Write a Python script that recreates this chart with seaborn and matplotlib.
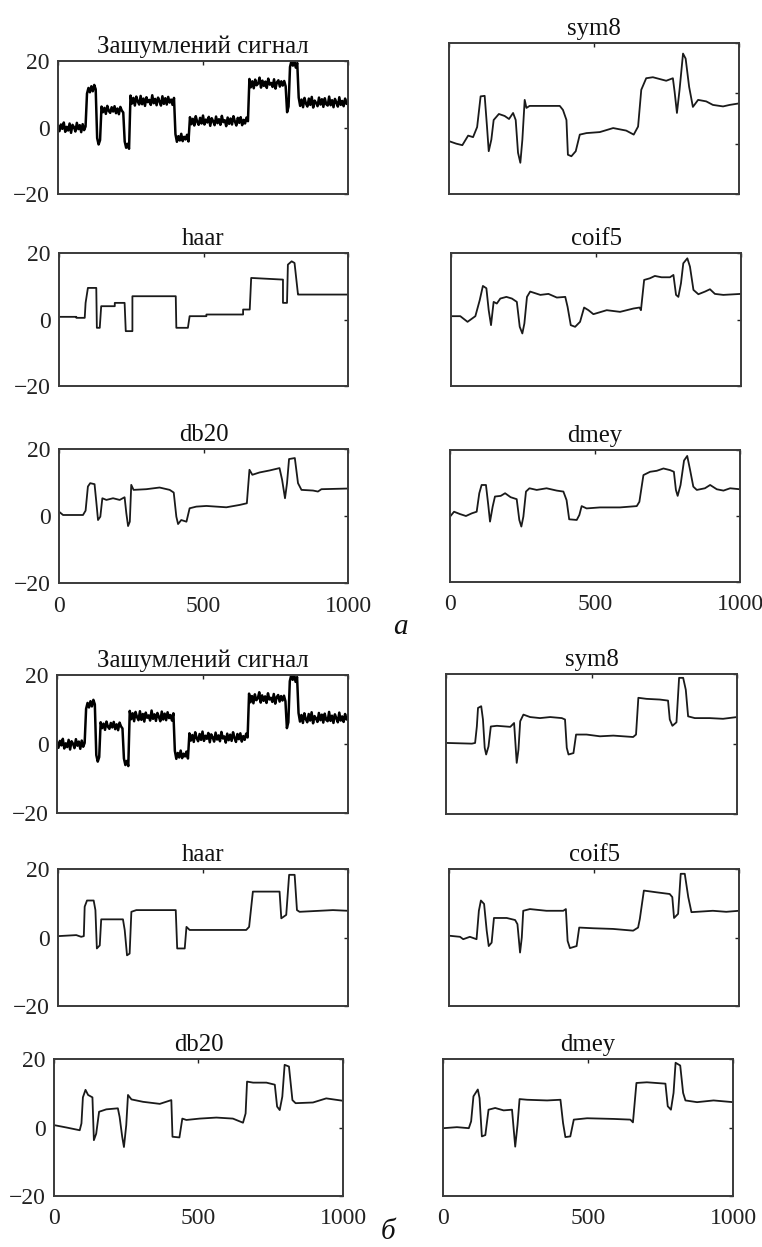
import numpy as np
import pandas as pd
import matplotlib
matplotlib.use("Agg")
import matplotlib.pyplot as plt
import seaborn as sns

# ---------------- data ----------------
NOISY_X = list(range(0, 1001, 5))
NOISY_Y = [0.6, -1.1, 0.9, -0.4, 1.5, -1.3, 0.2, -0.9, 1.2, -1.6, 0.8, 0.1, -1.2, 1.4, -0.5, 0.7, -1.4, 1.0, -0.8, 0.3,
           10.2, 11.9, 10.6, 12.4, 10.9, 12.8, 11.5,
           -3.2, -5.1, -3.8,
           6.3, 4.6, 5.9, 4.1, 6.5, 5.0, 4.4, 6.1, 4.8, 6.4, 4.3, 5.7, 4.0, 6.2, 5.1, 4.5,
           -4.2, -6.1, -4.9, -6.4,
           9.6, 7.2, 8.9, 6.6, 9.3, 7.8, 6.9, 9.5, 7.0, 8.7, 6.5, 9.1, 7.6, 8.3, 6.8, 9.7, 7.3, 8.6, 6.7, 9.0,
           7.9, 6.6, 9.4, 7.1, 8.8, 6.9, 9.2, 7.5, 8.4, 6.8, 8.9,
           -2.0, -4.3, -2.6, -3.9, -1.9, -4.1, -2.8, -3.6, -2.2, -4.2,
           3.1, 1.0, 2.6, 0.6, 3.4, 1.7, 0.8, 2.9, 1.2, 3.6, 0.9, 2.4, 1.5, 3.2, 0.5, 2.8, 1.9, 0.7, 3.3, 1.3,
           2.5, 0.8, 3.5, 1.6, 2.2, 0.4, 3.0, 1.1, 2.7, 0.9, 3.4, 1.8, 0.6, 2.9, 1.4, 3.1, 0.7, 2.3, 1.2, 3.0, 1.9,
           14.6, 12.1, 13.9, 11.8, 14.4, 12.7, 13.2, 15.0, 12.0, 14.1, 12.5, 13.8, 11.9, 14.7, 12.9, 13.4, 12.2,
           14.5, 11.7, 13.6, 14.2, 12.3, 13.9, 12.6, 14.0, 12.4,
           4.6, 6.3,
           18.2, 20.0, 18.6, 19.8, 18.0, 19.4,
           9.0, 6.5, 8.4, 6.1, 8.9, 7.2, 6.3, 8.7, 6.8, 9.2, 6.0, 8.1, 7.4, 6.4, 9.0, 6.9, 8.5, 6.2, 8.8, 7.0,
           6.6, 9.3, 6.7, 8.2, 6.1, 8.6, 7.5, 6.3, 9.1, 6.8, 8.0, 6.4, 8.7, 7.1, 7.8]

A_SYM8_X = [0, 25, 46, 66, 83, 97, 109, 123, 131, 137, 146, 154, 172, 192, 207, 221, 230, 238, 246, 253,
            261, 267, 278, 382, 393, 405, 410, 422, 437, 451, 474, 520, 566, 611, 637, 652, 663, 680, 703,
            749, 772, 778, 786, 795, 807, 816, 828, 841, 859, 887, 910, 945, 968, 1000]
A_SYM8_Y = [0.5, 0, -0.3, 1.6, 1.3, 3.3, 9.4, 9.5, 3.4, -1.5, 0.8, 4.7, 5.9, 5.5, 4.9, 6.1, 4.7, -1.8, -3.8, 0.8,
            8.7, 7.1, 7.5, 7.5, 6.7, 4.7, -2.2, -2.5, -1.5, 1.8, 2.1, 2.3, 3.1, 2.6, 1.8, 3.4, 10.7, 13.0, 13.2,
            12.5, 13.0, 10.3, 6.1, 10.7, 17.9, 16.9, 11.3, 7.3, 8.7, 8.4, 7.7, 7.4, 7.7, 8.0]

A_HAAR_X = [0, 60, 60, 89, 92, 100, 129, 131, 141, 146, 193, 193, 227, 231, 254, 254, 404, 406, 446, 452,
            510, 510, 637, 637, 660, 665, 775, 775, 789, 792, 805, 815, 827, 830, 1000]
A_HAAR_Y = [0.8, 0.8, 0.5, 0.5, 5.0, 9.5, 9.5, -2.5, -2.5, 4.0, 4.0, 5.0, 5.0, -3.5, -3.5, 7.0, 7.0, -2.5, -2.5, 1.0,
            1.0, 1.5, 1.5, 3.0, 3.0, 12.5, 12.0, 5.0, 5.0, 16.5, 17.5, 17.0, 7.5, 7.5, 7.5]

A_COIF5_X = [0, 32, 57, 84, 99, 110, 122, 130, 138, 147, 158, 170, 191, 210, 227, 237, 246, 253, 262, 273,
             308, 336, 365, 394, 402, 413, 428, 445, 459, 474, 491, 537, 583, 629, 650, 655, 666, 686, 703,
             726, 755, 767, 776, 784, 793, 801, 815, 824, 836, 853, 876, 893, 910, 939, 1000]
A_COIF5_Y = [1.0, 1.0, -0.7, 1.0, 5.8, 10.1, 9.4, 2.8, -1.7, 5.3, 4.8, 6.3, 6.8, 6.3, 5.3, -2.2, -4.2, -1.2, 6.8, 8.4,
             7.4, 7.7, 6.6, 6.8, 3.8, -1.7, -2.2, -0.7, 3.6, 2.8, 1.6, 2.8, 2.3, 3.3, 3.6, 2.8, 11.9, 12.4, 13.1,
             12.7, 12.7, 13.4, 7.4, 6.8, 10.9, 16.9, 18.4, 15.9, 8.9, 7.6, 8.4, 9.1, 7.7, 7.4, 7.7]

A_DB20_X = [0, 14, 83, 92, 100, 108, 123, 129, 135, 143, 150, 164, 187, 210, 227, 233, 239, 245, 250, 258,
            302, 348, 383, 397, 406, 412, 423, 441, 452, 475, 510, 579, 625, 650, 659, 669, 694, 729, 763,
            772, 782, 789, 796, 816, 827, 839, 879, 896, 908, 1000]
A_DB20_Y = [1.3, 0.3, 0.3, 1.6, 8.8, 9.8, 9.5, 4.3, -1.2, -0.2, 5.3, 4.8, 5.3, 4.8, 5.6, 0.8, -3.0, -1.7, 9.3, 7.8,
            8.0, 8.5, 7.8, 7.0, -0.2, -2.4, -1.2, -1.7, 2.3, 2.8, 3.0, 2.6, 3.3, 3.8, 13.8, 12.3, 13.0, 13.6, 14.3,
            10.8, 5.3, 9.8, 17.0, 17.3, 9.8, 7.8, 7.6, 7.3, 8.0, 8.2]

A_DMEY_X = [0, 14, 34, 55, 75, 92, 101, 109, 124, 132, 138, 147, 155, 175, 190, 209, 230, 239, 246, 253,
            262, 274, 299, 333, 368, 391, 402, 411, 437, 446, 454, 471, 517, 586, 644, 653, 667, 690, 713,
            736, 759, 772, 779, 785, 795, 807, 818, 828, 839, 851, 879, 897, 920, 943, 966, 1000]
A_DMEY_Y = [-0.2, 1.3, 0.6, 0.0, 0.8, 1.3, 6.9, 9.4, 9.4, 3.3, -1.7, 2.8, 5.9, 6.1, 6.9, 5.7, 5.1, -1.2, -3.2, -0.2,
            7.4, 8.4, 7.9, 8.4, 7.7, 7.4, 4.8, -1.0, -1.2, 0.3, 3.0, 2.3, 2.6, 2.6, 3.0, 4.3, 12.4, 13.4, 13.7,
            14.4, 13.9, 13.4, 7.9, 6.1, 9.4, 16.8, 18.2, 13.9, 8.9, 7.9, 8.4, 9.4, 8.1, 7.7, 8.4, 8.1]

B_SYM8_X = [3, 89, 100, 106, 110, 121, 127, 133, 138, 146, 154, 175, 221, 234, 243, 249, 255, 266, 289, 323,
            358, 398, 409, 415, 421, 438, 447, 483, 529, 575, 643, 653, 661, 689, 735, 763, 769, 778, 792,
            801, 815, 824, 832, 855, 906, 952, 1000]
B_SYM8_Y = [0.3, 0.1, 0.3, 5.0, 10.3, 10.8, 7.0, -1.1, -3.0, -0.7, 5.0, 5.2, 4.9, 6.0, -5.4, -1.6, 6.5, 8.4, 7.7, 7.4,
            7.7, 7.4, 7.0, -1.1, -3.0, -2.6, 2.7, 2.7, 2.2, 2.4, 2.0, 2.7, 13.2, 12.9, 12.7, 12.4, 7.0, 5.2, 6.2,
            18.9, 18.9, 15.5, 7.9, 7.4, 7.4, 7.2, 7.7]

B_HAAR_X = [0, 63, 80, 89, 92, 100, 123, 129, 134, 144, 149, 224, 230, 238, 247, 253, 270, 406, 411, 437,
            443, 454, 649, 659, 672, 764, 770, 787, 797, 816, 824, 833, 948, 1000]
B_HAAR_Y = [0.4, 0.7, 0.2, 0.4, 9.0, 10.8, 10.8, 8.0, -3.2, -2.3, 5.3, 5.3, 2.2, -5.2, -4.7, 7.5, 8.0, 8.0, -3.2, -3.2,
            3.1, 2.2, 2.2, 3.1, 13.4, 13.4, 5.6, 6.6, 18.3, 18.3, 8.0, 7.5, 8.0, 7.8]

B_COIF5_X = [3, 38, 49, 72, 95, 103, 110, 121, 130, 137, 147, 155, 176, 199, 228, 236, 245, 251, 256, 279,
             336, 394, 403, 409, 417, 440, 449, 497, 566, 635, 652, 658, 672, 715, 761, 770, 776, 790, 799,
             813, 825, 836, 910, 956, 1000]
B_COIF5_Y = [0.5, 0.2, -0.5, 0.2, -0.5, 7.8, 10.8, 9.8, 2.0, -2.5, -1.5, 5.7, 5.7, 5.7, 5.1, 3.9, -4.4, 0.0, 7.8, 8.3,
             7.8, 7.8, 8.3, -1.0, -3.1, -2.5, 2.9, 2.7, 2.5, 2.0, 2.9, 5.4, 13.7, 13.2, 12.7, 11.8, 5.7, 6.9, 18.6,
             18.6, 11.8, 7.4, 7.8, 7.5, 7.8]

B_DB20_X = [0, 43, 89, 95, 100, 109, 118, 133, 138, 146, 156, 181, 221, 227, 236, 242, 250, 256, 268, 308,
            366, 406, 410, 434, 444, 458, 504, 562, 619, 654, 663, 668, 689, 735, 764, 772, 781, 790, 798,
            813, 825, 836, 896, 942, 1000]
B_DB20_Y = [0.7, 0.0, -0.8, 1.2, 8.8, 11.0, 9.5, 8.8, -3.7, -1.8, 4.6, 5.3, 5.6, 3.1, -2.7, -5.7, 0.7, 9.5, 8.2, 7.5,
            6.9, 8.0, -2.7, -2.9, 2.6, 2.2, 2.6, 2.9, 2.6, 1.4, 4.1, 13.4, 13.1, 13.1, 12.5, 6.1, 5.1, 9.0, 18.3,
            17.8, 8.0, 7.1, 7.3, 8.5, 7.8]

B_DMEY_X = [2, 48, 89, 97, 105, 120, 126, 134, 146, 157, 180, 209, 238, 244, 249, 257, 264, 290, 359, 405,
            414, 422, 439, 451, 497, 589, 646, 655, 667, 703, 767, 775, 786, 795, 802, 818, 828, 836, 876,
            933, 1000]
B_DMEY_Y = [-0.2, 0.1, -0.2, 1.8, 9.1, 11.1, 8.6, -2.6, -2.2, 5.2, 5.7, 5.0, 5.2, -0.7, -5.6, 0.8, 8.3, 8.1, 7.9, 8.1,
            1.3, -2.8, -2.6, 2.3, 2.7, 2.5, 2.3, 1.5, 13.0, 13.2, 12.8, 6.2, 5.2, 10.1, 18.9, 18.1, 10.1, 7.9, 7.4,
            7.9, 7.4]

TITLES = ["Зашумлений сигнал", "sym8", "haar", "coif5", "db20", "dmey"]
X_TICKS = [0, 500, 1000]
Y_TICKS = [-20, 0, 20]
Y_TICKS_SYM8_A = [-10, 0, 10, 20]
PART_LABELS = ["а", "б"]

# ---------------- figure ----------------
sns.set_theme(style="white")
plt.rcParams["font.family"] = ["Liberation Serif", "DejaVu Serif"]

W, H = 762, 1247
fig = plt.figure(figsize=(W / 100, H / 100), dpi=100)
fig.patch.set_facecolor("white")

def rect(l, t, r, b):
    return [l / W, 1 - b / H, (r - l) / W, (b - t) / H]

LC = "#1a1a1a"
panels = [
    ((58, 61, 348, 194), NOISY_X, NOISY_Y, TITLES[0], (-20, 20), Y_TICKS, True, False, 1.8, "black"),
    ((449, 43, 739, 194), A_SYM8_X, A_SYM8_Y, TITLES[1], (-10, 20), Y_TICKS_SYM8_A, False, False, 1.3, LC),
    ((59, 253, 348, 386), A_HAAR_X, A_HAAR_Y, TITLES[2], (-20, 20), Y_TICKS, True, False, 1.3, LC),
    ((451, 253, 741, 386), A_COIF5_X, A_COIF5_Y, TITLES[3], (-20, 20), Y_TICKS, False, False, 1.3, LC),
    ((59, 449, 348, 583), A_DB20_X, A_DB20_Y, TITLES[4], (-20, 20), Y_TICKS, True, True, 1.3, LC),
    ((450, 450, 740, 582), A_DMEY_X, A_DMEY_Y, TITLES[5], (-20, 20), Y_TICKS, False, True, 1.3, LC),
    ((57, 675, 348, 813), NOISY_X, NOISY_Y, TITLES[0], (-20, 20), Y_TICKS, True, False, 1.8, "black"),
    ((446, 674, 737, 814), B_SYM8_X, B_SYM8_Y, TITLES[1], (-20, 20), Y_TICKS, False, False, 1.3, LC),
    ((58, 869, 348, 1006), B_HAAR_X, B_HAAR_Y, TITLES[2], (-20, 20), Y_TICKS, True, False, 1.3, LC),
    ((449, 869, 739, 1006), B_COIF5_X, B_COIF5_Y, TITLES[3], (-20, 20), Y_TICKS, False, False, 1.3, LC),
    ((54, 1059, 343, 1196), B_DB20_X, B_DB20_Y, TITLES[4], (-20, 20), Y_TICKS, True, True, 1.3, LC),
    ((443, 1059, 733, 1196), B_DMEY_X, B_DMEY_Y, TITLES[5], (-20, 20), Y_TICKS, False, True, 1.3, LC),
]

FS = 17
for (r, xs, ys, title, ylim, yticks, ylab, xlab, lw, col) in panels:
    ax = fig.add_axes(rect(*r))
    df = pd.DataFrame({"x": xs, "y": ys})
    sns.lineplot(data=df, x="x", y="y", ax=ax, color=col, linewidth=lw,
                 estimator=None, sort=False)
    ax.set_xlim(0, 1000)
    ax.set_ylim(*ylim)
    ax.set_xticks(X_TICKS)
    ax.set_yticks(yticks)
    ax.set_xlabel("")
    ax.set_ylabel("")
    ax.grid(False)
    ax.tick_params(direction="in", length=3, width=1.0, top=True, right=True,
                   labelsize=FS, colors="#222222", pad=6)
    ax.tick_params(axis="x", pad=9)
    if not ylab:
        ax.set_yticklabels([])
    if not xlab:
        ax.set_xticklabels([])
    for s in ax.spines.values():
        s.set_color("#3a3a3a")
        s.set_linewidth(1.4)
        s.set_visible(True)
    ax.set_title(title, fontsize=17.8, pad=6, color="#111111")

fig.text(400 / W, 1 - 627 / H, PART_LABELS[0], fontsize=21, style="italic",
         ha="center", va="center", color="#111111")
fig.text(388 / W, 1 - 1232 / H, PART_LABELS[1], fontsize=21, style="italic",
         ha="center", va="center", color="#111111")

fig.savefig("out.png", dpi=100, facecolor="white")
